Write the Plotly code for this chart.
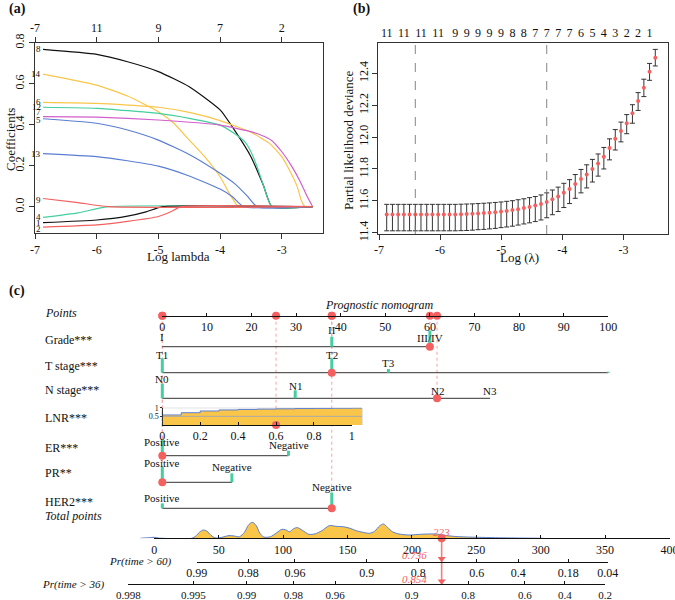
import plotly.graph_objects as go

W, H = 675, 600
SERIF = "'Liberation Serif', 'Times New Roman', Times, serif"
INK = "#111111"
RED = "#F4605F"
REDLINE = "#F47E7E"
GREEN = "#43CF9E"
YELLOW = "#F9C64A"
BLUE = "#5A7ED2"
MAGENTA = "#D25FCC"
NFS = 11  # nomogram font size

# ===================== (a) LASSO coefficient paths =====================
path_names = ["8", "14", "6", "12", "7", "5", "13", "9", "4", "1", "2"]
path_colors = [INK, YELLOW, YELLOW, GREEN, MAGENTA, BLUE, BLUE, RED, GREEN, INK, RED]
path_loglam = [
    [-6.87, -6.0, -5.5, -5.0, -4.5, -4.0, -3.75, -3.5, -3.3, -3.16, -2.5],
    [-6.87, -6.0, -5.5, -5.0, -4.75, -4.5, -4.25, -4.0, -3.85, -3.74, -3.7, -2.5],
    [-6.87, -6.0, -5.0, -4.5, -4.0, -3.5, -3.2, -3.0, -2.85, -2.75, -2.68, -2.62, -2.5],
    [-6.87, -6.0, -5.0, -4.5, -4.0, -3.75, -3.6, -3.5, -3.4, -3.3, -3.16, -2.5],
    [-6.87, -6.0, -5.0, -4.0, -3.5, -3.3, -3.16, -3.0, -2.85, -2.7, -2.6, -2.5],
    [-6.87, -6.0, -5.5, -5.0, -4.5, -4.0, -3.75, -3.55, -3.4, -2.5],
    [-6.87, -6.0, -5.5, -5.0, -4.5, -4.0, -3.8, -3.62, -2.5],
    [-6.87, -6.3, -5.82, -2.5],
    [-6.87, -6.3, -5.82, -2.5],
    [-6.87, -6.0, -5.5, -5.2, -4.93, -2.5],
    [-6.87, -6.0, -5.5, -5.0, -4.8, -4.63, -2.5],
]
path_coef = [
    [0.767, 0.743, 0.707, 0.659, 0.585, 0.472, 0.366, 0.244, 0.106, 0.0, 0.0],
    [0.647, 0.593, 0.54, 0.463, 0.407, 0.325, 0.244, 0.146, 0.065, 0.013, 0.0, 0.0],
    [0.509, 0.504, 0.485, 0.46, 0.42, 0.363, 0.309, 0.244, 0.163, 0.098, 0.028, 0.0, 0.0],
    [0.485, 0.48, 0.455, 0.431, 0.398, 0.353, 0.317, 0.268, 0.195, 0.106, 0.0, 0.0],
    [0.439, 0.437, 0.423, 0.398, 0.366, 0.345, 0.322, 0.268, 0.203, 0.122, 0.057, 0.0],
    [0.429, 0.407, 0.374, 0.325, 0.255, 0.163, 0.109, 0.049, 0.0, 0.0],
    [0.259, 0.244, 0.224, 0.198, 0.15, 0.086, 0.049, 0.0, 0.0],
    [0.04, 0.02, 0.0, 0.0],
    [-0.052, -0.03, 0.0, 0.0],
    [-0.078, -0.065, -0.046, -0.025, 0.0, 0.0],
    [-0.1, -0.089, -0.072, -0.048, -0.025, 0.0, 0.0],
]
path_label_coef = [0.767, 0.647, 0.509, 0.485, 0.462, 0.423, 0.257, 0.034, -0.052, -0.08, -0.107]
a_xticks = [-7, -6, -5, -4, -3]
a_xticklabels = ["-7", "-6", "-5", "-4", "-3"]
a_toplabels = ["-7", "11", "9", "7", "2"]
a_yticks = [0.0, 0.2, 0.4, 0.6, 0.8]
a_yticklabels = ["0.0", "0.2", "0.4", "0.6", "0.8"]

# ===================== (b) cross-validation curve =====================
loglam = [-6.874, -6.780, -6.687, -6.593, -6.500, -6.406, -6.313, -6.219, -6.126, -6.032,
          -5.939, -5.845, -5.752, -5.658, -5.565, -5.471, -5.378, -5.284, -5.191, -5.097,
          -5.003, -4.910, -4.816, -4.723, -4.629, -4.536, -4.442, -4.349, -4.255, -4.162,
          -4.068, -3.975, -3.881, -3.788, -3.694, -3.601, -3.507, -3.414, -3.320, -3.227,
          -3.133, -3.040, -2.946, -2.852, -2.759, -2.665, -2.572, -2.478]
cvm = [11.515, 11.515, 11.515, 11.515, 11.515, 11.515, 11.515, 11.515, 11.515, 11.515,
       11.515, 11.515, 11.515, 11.516, 11.517, 11.519, 11.521, 11.523, 11.526, 11.529,
       11.533, 11.537, 11.542, 11.548, 11.555, 11.562, 11.570, 11.580, 11.593, 11.610,
       11.628, 11.651, 11.674, 11.705, 11.737, 11.766, 11.800, 11.835, 11.877, 11.931,
       11.990, 12.038, 12.086, 12.149, 12.226, 12.310, 12.410, 12.498]
cv_up = [0.063, 0.063, 0.063, 0.063, 0.063, 0.063, 0.063, 0.063, 0.063, 0.063,
         0.063, 0.063, 0.063, 0.063, 0.063, 0.062, 0.062, 0.062, 0.061, 0.061,
         0.060, 0.060, 0.059, 0.059, 0.058, 0.058, 0.057, 0.057, 0.057, 0.058,
         0.058, 0.059, 0.059, 0.060, 0.060, 0.060, 0.060, 0.059, 0.058, 0.058,
         0.057, 0.056, 0.055, 0.054, 0.053, 0.053, 0.052, 0.052]
cv_lo = [0.103, 0.103, 0.103, 0.103, 0.103, 0.103, 0.103, 0.103, 0.103, 0.103,
         0.103, 0.103, 0.103, 0.103, 0.103, 0.103, 0.102, 0.102, 0.102, 0.102,
         0.101, 0.101, 0.101, 0.100, 0.100, 0.100, 0.100, 0.100, 0.099, 0.097,
         0.095, 0.093, 0.091, 0.089, 0.087, 0.085, 0.082, 0.080, 0.077, 0.074,
         0.071, 0.068, 0.065, 0.062, 0.059, 0.056, 0.054, 0.052]
nz_index = [0, 3, 6, 9, 12, 14, 16, 18, 20, 22, 24, 26, 28, 30, 32, 34, 36, 38, 40, 42, 44, 46]
nz_label = ["11", "11", "11", "11", "9", "9", "9", "9", "9", "8", "8", "7",
            "7", "7", "7", "6", "5", "4", "3", "2", "2", "1"]
lambda_min_index = 5
lambda_1se_index = 28
b_xticks = [-7, -6, -5, -4, -3]
b_xticklabels = ["-7", "-6", "-5", "-4", "-3"]
b_yticks = [11.4, 11.6, 11.8, 12.0, 12.2, 12.4]
b_yticklabels = ["11.4", "11.6", "11.8", "12.0", "12.2", "12.4"]

# ===================== (c) nomogram =====================
points_ticks = [0, 10, 20, 30, 40, 50, 60, 70, 80, 90, 100]
grade_levels = ["I", "II", "III/IV"]
grade_points = [0, 38, 60]
grade_freq = [0.0, 0.62, 1.0]
t_levels = ["T1", "T2", "T3", ""]
t_points = [0, 38, 50.7, 100]
t_freq = [0.89, 0.89, 0.23, 0.06]
n_levels = ["N0", "N1", "N2", "N3"]
n_points = [0, 29.8, 61.6, 73.5]
n_freq = [0.92, 0.5, 0.25, 0.0]
er_levels = ["Positive", "Negative"]
er_points = [0, 28.3]
er_freq = [0.98, 0.31]
pr_levels = ["Positive", "Negative"]
pr_points = [0, 15.6]
pr_freq = [0.98, 0.56]
her2_levels = ["Positive", "Negative"]
her2_points = [0, 38]
her2_freq = [0.31, 0.98]
lnr_points_at_1 = 42.5
lnr_ticks = [0, 0.2, 0.4, 0.6, 0.8, 1]
lnr_ticklabels = ["0", "0.2", "0.4", "0.6", "0.8", "1"]
lnr_ecdf_x = [0.0, 0.1, 0.2, 0.3, 0.4, 0.5, 0.6, 0.7, 0.8, 0.9, 1.0, 1.053]
lnr_ecdf_y = [0.58, 0.71, 0.81, 0.87, 0.90, 0.92, 0.935, 0.95, 0.96, 0.97, 0.98, 0.98]
total_ticks = [0, 50, 100, 150, 200, 250, 300, 350, 400]
pr60_labels = ["0.99", "0.98", "0.96", "0.9", "0.8", "0.6", "0.4", "0.18", "0.04"]
pr60_at_total = [32.9, 72.9, 109.2, 164.9, 205.0, 250.3, 282.6, 321.4, 352.0]
pr36_labels = ["0.998", "0.995", "0.99", "0.98", "0.96", "0.9", "0.8", "0.6", "0.4", "0.2"]
pr36_at_total = [-20.2, 30.4, 71.7, 107.9, 140.3, 199.7, 243.7, 287.8, 318.8, 350.0]
density_total = [-11, -8, -4, 0, 3, 6, 29, 32, 35, 38, 41, 44, 47, 50, 54, 58, 62, 66, 70, 73,
                 76, 79, 82, 85, 90, 95, 99, 102, 105, 108, 111, 115, 120, 125, 130, 136, 141,
                 147, 152, 157, 162, 167, 171, 175, 178, 181, 185, 190, 198, 204, 210, 219,
                 227, 235, 245, 255, 268, 280, 295, 302]
density_height = [0, 0.3, 0.6, 1.0, 0.3, 0, 0, 2, 6, 8.3, 7, 3, 0.5, 0.3, 1.5, 2.7, 2.3, 1.5, 6, 13,
                  16, 13, 5, 1.3, 1.5, 5.5, 9, 8.5, 6.5, 9.5, 10.7, 8, 4, 4.5, 7.5, 12.7, 12,
                  11.5, 10, 7.5, 6, 5, 7, 12.5, 14.3, 11, 6.5, 4.3, 3.3, 3.8, 4.2, 4.3,
                  2.7, 1.7, 1.2, 0.9, 0.5, 0.3, 0.1, 0]
patient_level = {"Grade": 2, "T": 1, "N": 2, "ER": 0, "PR": 0, "HER2": 1}
patient_lnr = 0.6
pred_total_label = "223"
pred_pr60_label = "0.736"
pred_pr36_label = "0.854"

# ===================== helpers / layout constants =====================
def fx(x):
    return x / W


def fy(y):
    return 1 - y / H


fig = go.Figure()
annotations = []


def ann(text, x, y, xref="paper", yref="paper", size=NFS, xanchor="center",
        yanchor="middle", color=INK, **kw):
    if xref == "paper":
        x = fx(x)
    if yref == "paper":
        y = fy(y)
    annotations.append(dict(text=text, x=x, y=y, xref=xref, yref=yref, showarrow=False,
                            xanchor=xanchor, yanchor=yanchor,
                            font=dict(family=SERIF, size=size, color=color), **kw))


# ---------- panel (a) ----------
A_L, A_R, A_T, A_B = 35.0, 323.3, 42.7, 233.3
A_XR = [-7.0, -2.327]
A_YR = [-0.1298, 0.80]
for nm, col, xs, ys in zip(path_names, path_colors, path_loglam, path_coef):
    fig.add_trace(go.Scatter(
        x=xs, y=ys, mode="lines", xaxis="x2" if nm == "9" else "x", yaxis="y",
        line=dict(color=col, width=1.2, shape="spline", smoothing=0.5),
        showlegend=False, hoverinfo="skip"))
for nm, yv, xs in zip(path_names, path_label_coef, path_loglam):
    ann(nm, xs[0], yv, xref="x", yref="y", size=9, xanchor="right")

# ---------- panel (b) ----------
B_L, B_R, B_T, B_B = 378.3, 668.0, 42.7, 234.0
B_XR = [-7.0115, -2.270]
B_YR = [11.392, 12.592]
fig.add_trace(go.Scatter(
    x=loglam, y=cvm, mode="markers", xaxis="x4", yaxis="y3",
    marker=dict(color=RED, size=4),
    error_y=dict(type="data", symmetric=False, array=cv_up, arrayminus=cv_lo,
                 color="#333333", thickness=1, width=2.5),
    showlegend=False, hoverinfo="skip"))

shapes = []
for idx in (lambda_min_index, lambda_1se_index):
    shapes.append(dict(type="line", xref="x3", yref="y3 domain", x0=loglam[idx], x1=loglam[idx],
                       y0=0, y1=1, line=dict(color="#777777", width=0.9, dash="dash")))

# ---------- panel (c) nomogram ----------
PT0, PT_PX = 162.3, 4.46
TOT0, TOT_PX = 154.3, 1.288
LNR_PX = PT_PX * lnr_points_at_1
POINTS_Y = 315.7
LNR_Y, LNR_TOP = 425.0, 407.7
TOTAL_Y, PR60_Y, PR36_Y = 538.3, 561.7, 584.3
BAR_PX = 16.0
DENS_PX = 17.0

rows = [
    ("Grade***", grade_levels, grade_points, grade_freq, "Grade", 346.7, 340.0, [337.0, 330.0, 338.3]),
    ("T stage***", t_levels, t_points, t_freq, "T", 372.7, 366.0, [355.0, 355.0, 363.3, 365.0]),
    ("N stage***", n_levels, n_points, n_freq, "N", 398.3, 390.0, [379.3, 386.0, 390.7, 390.7]),
    ("ER***", er_levels, er_points, er_freq, "ER", 455.7, 448.3, [441.7, 445.0]),
    ("PR**", pr_levels, pr_points, pr_freq, "PR", 482.3, 473.3, [462.7, 466.7]),
    ("HER2***", her2_levels, her2_points, her2_freq, "HER2", 508.3, 501.7, [498.3, 486.7]),
]

patient_pts = []
patient_rows_y = []
for label, levels, pts, freq, key, ly, name_y, lab_y in rows:
    ann(label, 43, name_y, xanchor="left", size=12)
    patient_pts.append(pts[patient_level[key]])
    patient_rows_y.append(ly)
lnr_pts = patient_lnr * lnr_points_at_1
patient_pts_all = patient_pts + [lnr_pts]

guide_x, guide_y = [], []
for p, ly in zip(patient_pts, patient_rows_y):
    guide_x += [p, p, None]
    guide_y += [POINTS_Y, ly, None]
guide_x += [lnr_pts, lnr_pts, None]
guide_y += [POINTS_Y, LNR_Y, None]
fig.add_trace(go.Scatter(x=guide_x, y=guide_y, mode="lines", xaxis="x5", yaxis="y5",
                         line=dict(color="#F3A3A3", width=1, dash="dot"),
                         showlegend=False, hoverinfo="skip"))

line_x, line_y, bar_x, bar_y = [], [], [], []
for label, levels, pts, freq, key, ly, name_y, lab_y in rows:
    line_x += [min(pts), max(pts), None]
    line_y += [ly, ly, None]
    for lv, p, f, yy in zip(levels, pts, freq, lab_y):
        if f > 0:
            bar_x += [p, p, None]
            bar_y += [ly, ly - f * BAR_PX, None]
        if lv:
            ann(lv, p, yy, xref="x5", yref="y5")
fig.add_trace(go.Scatter(x=line_x, y=line_y, mode="lines", xaxis="x5", yaxis="y5",
                         line=dict(color="#333333", width=1), showlegend=False, hoverinfo="skip"))
fig.add_trace(go.Scatter(x=bar_x, y=bar_y, mode="lines", xaxis="x5", yaxis="y5",
                         line=dict(color=GREEN, width=3), showlegend=False, hoverinfo="skip"))

shapes.append(dict(type="rect", xref="x7", yref="y6", x0=0, x1=lnr_ecdf_x[-1], y0=0, y1=1,
                   line=dict(color="#b5b5b5", width=1), fillcolor="rgba(0,0,0,0)", layer="below"))
fig.add_trace(go.Scatter(x=lnr_ecdf_x, y=lnr_ecdf_y, mode="lines", xaxis="x7", yaxis="y6",
                         line=dict(color=BLUE, width=1, shape="hv"), fill="tozeroy",
                         fillcolor=YELLOW, showlegend=False, hoverinfo="skip"))
fig.add_trace(go.Scatter(x=[0, lnr_ecdf_x[-1]], y=[0.5, 0.5], mode="lines", xaxis="x7", yaxis="y6",
                         line=dict(color="#aaaaaa", width=1), showlegend=False, hoverinfo="skip"))
ann("LNR***", 43, 417.7, xanchor="left", size=12)

fig.add_trace(go.Scatter(x=density_total, y=density_height, mode="lines", xaxis="x6", yaxis="y7",
                         line=dict(color=BLUE, width=1, shape="spline", smoothing=0.8),
                         fill="tozeroy", fillcolor=YELLOW, showlegend=False, hoverinfo="skip"))

fig.add_trace(go.Scatter(x=patient_pts, y=patient_rows_y, mode="markers", xaxis="x5", yaxis="y5",
                         marker=dict(color=RED, size=8), cliponaxis=False,
                         showlegend=False, hoverinfo="skip"))
fig.add_trace(go.Scatter(x=patient_pts_all, y=[POINTS_Y] * len(patient_pts_all), mode="markers",
                         xaxis="x8", yaxis="y5", marker=dict(color=RED, size=8), cliponaxis=False,
                         showlegend=False, hoverinfo="skip"))
fig.add_trace(go.Scatter(x=[patient_lnr], y=[LNR_Y], mode="markers", xaxis="x9", yaxis="y5",
                         marker=dict(color=RED, size=8), cliponaxis=False,
                         showlegend=False, hoverinfo="skip"))
total_pts = sum(patient_pts_all)
fig.add_trace(go.Scatter(x=[total_pts, total_pts], y=[TOTAL_Y, PR36_Y], mode="lines",
                         xaxis="x6", yaxis="y5", line=dict(color=REDLINE, width=1.6),
                         showlegend=False, hoverinfo="skip"))
fig.add_trace(go.Scatter(x=[total_pts], y=[TOTAL_Y], mode="markers", xaxis="x10", yaxis="y5",
                         marker=dict(color=RED, size=8), cliponaxis=False,
                         showlegend=False, hoverinfo="skip"))
fig.add_trace(go.Scatter(x=[total_pts], y=[PR60_Y - 3], mode="markers", xaxis="x11", yaxis="y5",
                         marker=dict(color=RED, size=7, symbol="triangle-down"), cliponaxis=False,
                         showlegend=False, hoverinfo="skip"))
fig.add_trace(go.Scatter(x=[total_pts], y=[PR36_Y - 3], mode="markers", xaxis="x12", yaxis="y5",
                         marker=dict(color=RED, size=7, symbol="triangle-down"), cliponaxis=False,
                         showlegend=False, hoverinfo="skip"))
ann("<i>" + pred_total_label + "</i>", total_pts, 531.5, xref="x6", yref="y5", color=RED)
ann("<i>" + pred_pr60_label + "</i>", total_pts, 555.0, xref="x6", yref="y5", color=RED,
    xanchor="right", xshift=-13)
ann("<i>" + pred_pr36_label + "</i>", total_pts, 579.3, xref="x6", yref="y5", color=RED,
    xanchor="right", xshift=-13)

ann("<i>Points</i>", 43, 313.0, xanchor="left", size=12)
ann("<i>Prognostic nomogram</i>", 379, 305.0, size=12)
ann("<i>Total points</i>", 43, 516.0, xanchor="left", size=12)
ann("<i>Pr(time &gt; 60)</i>", 174, PR60_Y, xanchor="right")
ann("<i>Pr(time &gt; 36)</i>", 106.7, PR36_Y, xanchor="right")

ann("<b>(a)</b>", 7, 9, xanchor="left", size=14)
ann("<b>(b)</b>", 351, 9, xanchor="left", size=14)
ann("<b>(c)</b>", 7, 291, xanchor="left", size=14)
ann("Log lambda", 178, 256, size=13)
ann("Coefficients", 10, 140, size=13, textangle=-90)
ann("Log (λ)", 519, 258, size=13)
ann("Partial likelihood deviance", 348, 140, size=13, textangle=-90)

# ===================== axes =====================
box = dict(showline=True, linecolor="#333333", linewidth=1, mirror=True, showgrid=False,
           zeroline=False, ticks="outside", ticklen=5, tickcolor="#333333", automargin=False,
           tickfont=dict(family=SERIF, size=12, color=INK), tickmode="array")
hidden = dict(visible=False, showgrid=False, zeroline=False, automargin=False)
nomo = dict(showline=True, linecolor=INK, linewidth=1, ticks="inside", ticklen=3,
            tickcolor=INK, showgrid=False, zeroline=False, anchor="free", tickmode="array",
            automargin=False, ticklabeloverflow="allow",
            tickfont=dict(family=SERIF, size=NFS + 1, color=INK))

pts_range = [(0 - PT0) / PT_PX, (W - PT0) / PT_PX]
tot_range = [(0 - TOT0) / TOT_PX, (W - TOT0) / TOT_PX]
lnr_range = [(0 - PT0) / LNR_PX, (W - PT0) / LNR_PX]


def tot_dom(a, b):
    return [fx(TOT0 + a * TOT_PX), fx(TOT0 + b * TOT_PX)]


fig.update_layout(
    width=W, height=H, margin=dict(l=0, r=0, t=0, b=0, pad=0, autoexpand=False), autosize=False,
    paper_bgcolor="white", plot_bgcolor="rgba(0,0,0,0)",
    font=dict(family=SERIF, size=12, color=INK), showlegend=False, hovermode=False,
    xaxis=dict(box, domain=[fx(A_L), fx(A_R)], range=A_XR, anchor="y",
               tickvals=a_xticks, ticktext=a_xticklabels),
    xaxis2=dict(box, overlaying="x", side="top", anchor="y", range=A_XR, mirror=False,
                tickvals=a_xticks, ticktext=a_toplabels),
    yaxis=dict(box, domain=[fy(A_B), fy(A_T)], range=A_YR, anchor="x",
               tickvals=a_yticks, ticktext=a_yticklabels, tickangle=-90),
    xaxis3=dict(box, domain=[fx(B_L), fx(B_R)], range=B_XR, anchor="y3",
                tickvals=b_xticks, ticktext=b_xticklabels),
    xaxis4=dict(box, overlaying="x3", side="top", anchor="y3", range=B_XR, mirror=False,
                ticks="", tickvals=[loglam[i] for i in nz_index], ticktext=nz_label),
    yaxis3=dict(box, domain=[fy(B_B), fy(B_T)], range=B_YR, anchor="x3",
                tickvals=b_yticks, ticktext=b_yticklabels, tickangle=-90),
    xaxis5=dict(hidden, domain=[0, 1], range=pts_range, anchor="y5"),
    yaxis5=dict(hidden, domain=[0, 1], range=[H, 0], anchor="x5"),
    xaxis6=dict(hidden, domain=[0, 1], range=tot_range, anchor="y5"),
    xaxis7=dict(hidden, domain=[0, 1], range=lnr_range, anchor="y6"),
    yaxis6=dict(showline=True, linecolor="#333333", linewidth=1, ticks="outside", ticklen=2,
                tickcolor="#333333", showgrid=False, zeroline=False, anchor="free",
                automargin=False, position=fx(PT0), domain=[fy(LNR_Y), fy(LNR_TOP)],
                range=[0, 1], tickmode="array", tickvals=[0.5, 1], ticktext=["0.5", "1"],
                tickfont=dict(family=SERIF, size=8, color=INK)),
    yaxis7=dict(hidden, domain=[fy(TOTAL_Y), fy(TOTAL_Y - DENS_PX)], range=[0, DENS_PX]),
    xaxis8=dict(nomo, domain=[fx(PT0), fx(PT0 + 100 * PT_PX)], range=[0, 100],
                position=fy(POINTS_Y), tickvals=points_ticks,
                ticktext=[str(t) for t in points_ticks]),
    xaxis9=dict(nomo, domain=[fx(PT0), fx(PT0 + LNR_PX)], range=[0, 1],
                position=fy(LNR_Y), tickvals=lnr_ticks, ticktext=lnr_ticklabels),
    xaxis10=dict(nomo, domain=tot_dom(0, 400), range=[0, 400], position=fy(TOTAL_Y),
                 tickvals=total_ticks, ticktext=[str(t) for t in total_ticks]),
    xaxis11=dict(nomo, domain=tot_dom(pr60_at_total[0], pr60_at_total[-1]),
                 range=[pr60_at_total[0], pr60_at_total[-1]], position=fy(PR60_Y),
                 tickvals=pr60_at_total, ticktext=pr60_labels),
    xaxis12=dict(nomo, domain=tot_dom(pr36_at_total[0], pr36_at_total[-1]),
                 range=[pr36_at_total[0], pr36_at_total[-1]], position=fy(PR36_Y),
                 tickvals=pr36_at_total, ticktext=pr36_labels,
                 tickfont=dict(family=SERIF, size=NFS, color=INK)),
    annotations=annotations,
    shapes=shapes,
)

fig.write_html("out.html", config={"displayModeBar": False},
               post_script="document.body.style.margin='0';document.body.style.overflow='hidden';")
